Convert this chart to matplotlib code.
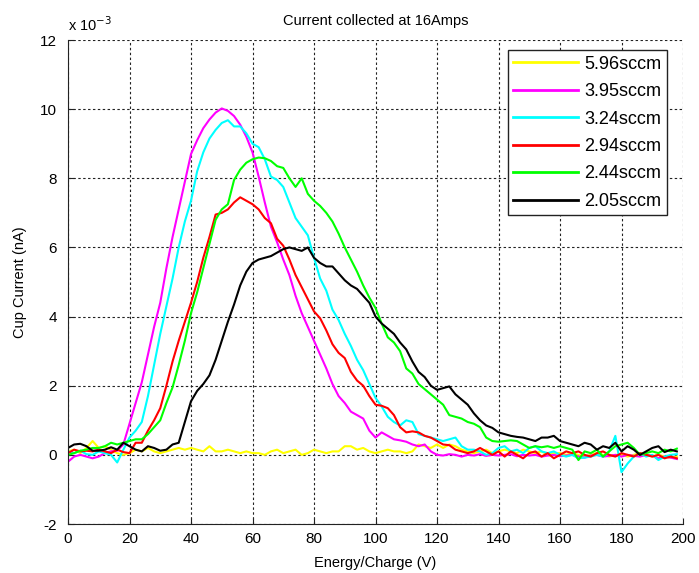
import numpy as np
import matplotlib
matplotlib.use("Agg")
import matplotlib.pyplot as plt

plt.rcParams['font.family'] = ['Liberation Sans', 'DejaVu Sans']
plt.rcParams['axes.unicode_minus'] = False

# Energy/charge sample points (V)
energy = np.arange(0, 199, 2)

# Cup current in units of 1e-3 nA, every 2 V
i_596 = [0.10, 0.15, 0.05, 0.20, 0.40, 0.20, 0.25, 0.15, 0.05, 0.00,
         0.05, 0.15, 0.10, 0.20, 0.10, 0.05, 0.10, 0.15, 0.20, 0.15,
         0.20, 0.15, 0.10, 0.25, 0.10, 0.10, 0.15, 0.10, 0.05, 0.10,
         0.05, 0.05, 0.00, 0.10, 0.15, 0.05, 0.10, 0.15, 0.00, 0.05,
         0.15, 0.10, 0.05, 0.10, 0.10, 0.25, 0.25, 0.15, 0.20, 0.10,
         0.05, 0.10, 0.15, 0.10, 0.10, 0.05, 0.10, 0.30, 0.25, 0.20,
         0.30, 0.20, 0.30, 0.25, 0.15, 0.10, 0.05, 0.10, 0.15, 0.05,
         0.10, 0.15, 0.10, 0.05, 0.15, 0.10, 0.05, 0.10, 0.00, 0.05,
         0.05, 0.00, 0.05, 0.00, -0.05, 0.00, 0.05, 0.00, -0.05, 0.00,
         0.00, -0.05, 0.00, 0.05, 0.00, -0.05, 0.00, -0.05, -0.08, -0.05]

i_395 = [-0.20, -0.05, 0.00, -0.05, -0.10, -0.05, 0.05, 0.10, 0.12, 0.30,
         0.90, 1.50, 2.10, 2.90, 3.70, 4.40, 5.40, 6.30, 7.10, 7.90,
         8.70, 9.10, 9.45, 9.70, 9.90, 10.02, 9.95, 9.80, 9.55, 9.20,
         8.75, 8.05, 7.30, 6.60, 6.15, 5.65, 5.20, 4.60, 4.10, 3.70,
         3.30, 2.90, 2.50, 2.05, 1.70, 1.50, 1.25, 1.15, 1.05, 0.70,
         0.50, 0.65, 0.55, 0.45, 0.42, 0.38, 0.30, 0.25, 0.30, 0.10,
         0.00, -0.02, 0.02, 0.00, -0.05, 0.00, -0.02, 0.02, -0.03, 0.00,
         -0.02, 0.00, 0.02, -0.04, 0.00, -0.02, 0.00, -0.05, -0.02, 0.00,
         -0.04, -0.02, 0.00, -0.05, -0.08, -0.02, 0.00, -0.05, -0.03, 0.00,
         -0.05, 0.00, -0.03, -0.05, 0.00, -0.02, -0.10, -0.05, -0.08, -0.12]

i_324 = [0.10, 0.05, 0.12, 0.02, 0.00, 0.10, 0.05, 0.00, -0.22, 0.15,
         0.50, 0.70, 0.95, 1.70, 2.60, 3.50, 4.30, 5.10, 6.00, 6.75,
         7.35, 8.20, 8.75, 9.15, 9.40, 9.60, 9.68, 9.50, 9.50, 9.30,
         9.00, 8.90, 8.55, 8.05, 7.95, 7.75, 7.30, 6.85, 6.60, 6.35,
         5.70, 5.10, 4.75, 4.20, 3.90, 3.50, 3.15, 2.75, 2.45, 2.05,
         1.65, 1.40, 1.10, 0.95, 0.85, 1.00, 0.95, 0.60, 0.55, 0.50,
         0.45, 0.40, 0.45, 0.50, 0.25, 0.15, 0.15, 0.10, 0.00, 0.05,
         0.20, 0.25, 0.10, 0.15, 0.05, 0.20, 0.25, 0.10, 0.05, 0.10,
         0.00, -0.05, 0.00, -0.10, -0.08, -0.05, 0.00, -0.05, 0.10, 0.55,
         -0.50, -0.25, -0.05, 0.05, -0.05, 0.00, -0.15, -0.05, 0.00, 0.02]

i_294 = [0.05, 0.15, 0.10, 0.12, 0.10, 0.15, 0.10, 0.05, 0.15, 0.08,
         0.05, 0.35, 0.35, 0.70, 1.00, 1.35, 2.00, 2.70, 3.30, 3.85,
         4.40, 5.00, 5.70, 6.30, 6.95, 7.00, 7.10, 7.30, 7.45, 7.35,
         7.25, 7.10, 6.85, 6.70, 6.25, 6.05, 5.65, 5.20, 4.85, 4.50,
         4.15, 3.95, 3.60, 3.20, 2.95, 2.80, 2.40, 2.15, 2.00, 1.70,
         1.45, 1.42, 1.35, 1.15, 0.80, 0.65, 0.68, 0.65, 0.55, 0.50,
         0.40, 0.30, 0.28, 0.15, 0.10, 0.05, 0.10, 0.20, 0.10, 0.00,
         0.10, -0.05, 0.10, 0.00, -0.10, 0.05, 0.10, -0.05, 0.05, -0.10,
         0.00, 0.10, 0.05, 0.10, 0.00, -0.05, 0.05, 0.10, 0.00, -0.05,
         0.05, 0.00, -0.05, 0.05, 0.00, -0.05, 0.00, -0.10, -0.05, -0.10]

i_244 = [0.00, 0.05, 0.12, 0.15, 0.20, 0.20, 0.25, 0.35, 0.30, 0.35,
         0.40, 0.45, 0.45, 0.60, 0.80, 1.00, 1.50, 1.95, 2.60, 3.30,
         4.10, 4.70, 5.40, 6.10, 6.80, 7.10, 7.25, 7.95, 8.25, 8.45,
         8.55, 8.60, 8.58, 8.50, 8.35, 8.30, 8.00, 7.75, 8.00, 7.55,
         7.35, 7.20, 7.00, 6.75, 6.40, 6.00, 5.65, 5.30, 4.90, 4.55,
         4.25, 3.80, 3.40, 3.25, 3.00, 2.50, 2.35, 2.05, 1.90, 1.75,
         1.60, 1.45, 1.15, 1.10, 1.05, 0.95, 0.90, 0.80, 0.50, 0.40,
         0.38, 0.40, 0.42, 0.40, 0.30, 0.20, 0.25, 0.22, 0.25, 0.20,
         0.25, 0.20, 0.15, -0.15, 0.10, 0.05, 0.15, -0.05, 0.10, 0.25,
         0.30, 0.35, 0.20, 0.00, 0.05, 0.10, 0.05, 0.15, 0.10, 0.18]

i_205 = [0.20, 0.30, 0.32, 0.25, 0.12, 0.12, 0.15, 0.22, 0.15, 0.35,
         0.25, 0.15, 0.10, 0.25, 0.20, 0.12, 0.15, 0.30, 0.35, 0.95,
         1.55, 1.85, 2.05, 2.30, 2.75, 3.30, 3.85, 4.35, 4.90, 5.30,
         5.55, 5.65, 5.70, 5.75, 5.85, 5.95, 6.00, 5.95, 5.90, 6.00,
         5.70, 5.55, 5.45, 5.45, 5.25, 5.05, 4.90, 4.80, 4.60, 4.40,
         4.00, 3.80, 3.65, 3.50, 3.25, 3.05, 2.70, 2.40, 2.25, 2.00,
         1.88, 1.93, 1.98, 1.75, 1.60, 1.45, 1.20, 1.00, 0.85, 0.78,
         0.65, 0.60, 0.55, 0.52, 0.50, 0.45, 0.40, 0.50, 0.50, 0.55,
         0.40, 0.35, 0.30, 0.25, 0.35, 0.30, 0.15, 0.25, 0.20, 0.35,
         0.10, 0.25, 0.15, 0.00, 0.10, 0.20, 0.25, 0.08, 0.15, 0.10]

labels = ['5.96sccm', '3.95sccm', '3.24sccm', '2.94sccm', '2.44sccm', '2.05sccm']
colors = ['#ffff00', '#ff00ff', '#00ffff', '#ff0000', '#00ff00', '#000000']
series = [i_596, i_395, i_324, i_294, i_244, i_205]

fig = plt.figure(figsize=(6.99, 5.73), dpi=100)
ax = fig.add_axes([68 / 699, 49 / 573, 615 / 699, 484 / 573])

for y, c, lab in zip(series, colors, labels):
    ax.plot(energy, y, color=c, lw=1.5, label=lab)

ax.set_xlim(0, 200)
ax.set_ylim(-2, 12)
ax.set_xticks(range(0, 201, 20))
ax.set_yticks(range(-2, 13, 2))
ax.grid(True, color='#222222', linestyle=(0, (2.2, 2.2)), linewidth=0.8)
ax.tick_params(direction='in', length=4, labelsize=11, color='#222222')
ax.tick_params(axis='x', pad=6)
ax.tick_params(axis='y', pad=8)
for side in ['top', 'right']:
    ax.spines[side].set_visible(False)
for side in ['left', 'bottom']:
    ax.spines[side].set_color('#222222')

ax.set_title('Current collected at 16Amps', fontsize=10.5, pad=11)
ax.set_xlabel('Energy/Charge (V)', fontsize=10.5, labelpad=7)
ax.set_ylabel('Cup Current (nA)', fontsize=10.5, labelpad=9)
ax.text(0.0, 1.012, r'x 10$^{-3}$', transform=ax.transAxes, fontsize=10.5,
        ha='left', va='bottom')

leg = ax.legend(loc='upper right', bbox_to_anchor=(0.974, 0.979),
                borderaxespad=0, fontsize=13, handlelength=3.6,
                handletextpad=0.35, labelspacing=0.58, fancybox=False,
                framealpha=1, edgecolor='#222222', borderpad=0.3)
leg.get_frame().set_linewidth(1.0)
for line in leg.get_lines():
    line.set_linewidth(2.0)

fig.savefig('out.png', dpi=100)
